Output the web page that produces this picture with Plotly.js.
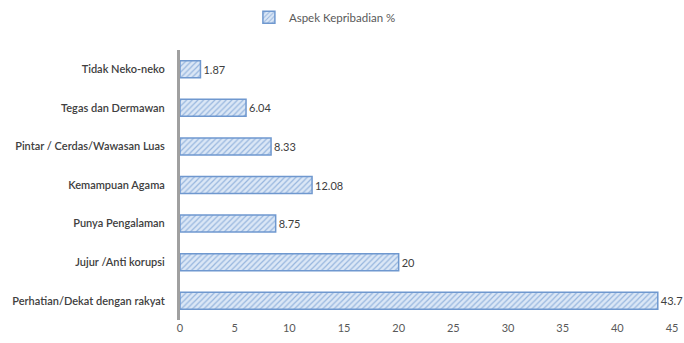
<!DOCTYPE html>
<html><head><meta charset="utf-8">
<script src="https://cdn.plot.ly/plotly-3.0.1.min.js"></script>
<style>html,body{margin:0;padding:0;background:#fff}#c{width:684px;height:343px}</style>
</head><body><div id="c"></div>
<script>
const categories = ["Tidak Neko-neko","Tegas dan Dermawan","Pintar / Cerdas/Wawasan Luas","Kemampuan Agama","Punya Pengalaman","Jujur /Anti korupsi","Perhatian/Dekat dengan rakyat"];
const values = [1.87, 6.04, 8.33, 12.08, 8.75, 20, 43.7];
const valueLabels = ["1.87","6.04","8.33","12.08","8.75","20","43.7"];
const xTicks = [0,5,10,15,20,25,30,35,40,45];
const seriesName = "Aspek Kepribadian %";

const trace = {
  type: 'bar', orientation: 'h', name: seriesName,
  y: categories, x: values, text: valueLabels,
  textposition: 'outside', constraintext: 'none', cliponaxis: false,
  textfont: {family: 'Lato, sans-serif', size: 11, color: '#404040'},
  marker: {
    color: '#c6d9f1',
    line: {color: '#6f98cf', width: 1.5},
    pattern: {shape: '/', fgcolor: '#97b6de', bgcolor: '#dbe7f6', size: 4, solidity: 0.3}
  },
  hoverinfo: 'skip'
};
const layout = {
  width: 684, height: 343,
  margin: {l: 180, r: 12, t: 50, b: 23},
  paper_bgcolor: '#fff', plot_bgcolor: '#fff',
  bargap: 0.56,
  showlegend: true,
  legend: {orientation: 'h', x: 0.475, xanchor: 'center', xref: 'container', y: 0.95, yref: 'container', yanchor: 'middle',
           itemwidth: 30, font: {family: 'Lato, sans-serif', size: 11.5, color: '#595959'}},
  font: {family: 'Lato, sans-serif', color: '#404040'},
  xaxis: {range: [0, 45], tickvals: xTicks, showgrid: false, zeroline: false, showline: false,
          ticks: '', tickfont: {size: 11, color: '#595959'}, fixedrange: true},
  yaxis: {autorange: 'reversed', showgrid: false, zeroline: false, showline: true, linecolor: '#a0a0a0', linewidth: 3,
          ticks: '', ticklabelstandoff: 10, tickfont: {size: 11, color: '#404040', weight: 600}}
};
Plotly.newPlot('c', [trace], layout, {staticPlot: true});
</script></body></html>
